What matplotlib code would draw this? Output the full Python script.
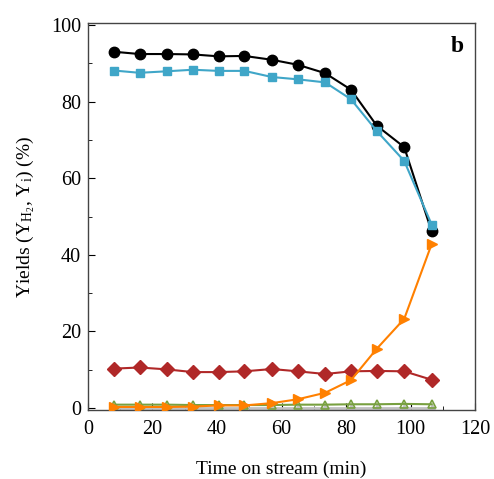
import numpy as np
import matplotlib
matplotlib.use('Agg')
from matplotlib import pyplot as plt
from matplotlib.ticker import MultipleLocator

plt.rcParams['font.family'] = ['Liberation Serif', 'DejaVu Serif']
plt.rcParams['mathtext.fontset'] = 'custom'
plt.rcParams['mathtext.rm'] = 'Liberation Serif'
plt.rcParams['mathtext.it'] = 'Liberation Serif:italic'

# time on stream (min)
t = [8, 16, 24.5, 32.5, 40.5, 48.5, 57, 65, 73.5, 81.5, 89.5, 98, 106.5]

# yields (%)
y_h2 = [93.0, 92.4, 92.4, 92.3, 91.8, 91.9, 90.9, 89.6, 87.4, 83.1, 73.7, 68.1, 46.1]
y_blue = [88.1, 87.5, 87.9, 88.3, 88.0, 88.0, 86.4, 85.8, 85.0, 80.6, 72.3, 64.5, 47.9]
y_red = [10.3, 10.6, 10.1, 9.4, 9.4, 9.6, 10.2, 9.6, 8.9, 9.6, 9.7, 9.6, 7.4]
y_orange = [0.3, 0.3, 0.3, 0.4, 0.7, 0.7, 1.3, 2.3, 4.0, 7.3, 15.5, 23.3, 42.8]
y_green = [0.9, 0.9, 0.9, 0.8, 0.8, 0.8, 0.8, 0.9, 0.9, 1.0, 1.0, 1.1, 1.0]
y_grey = [0.1, 0.1, 0.1, 0.1, 0.1, 0.1, 0.1, 0.1, 0.1, 0.1, 0.1, 0.1, 0.1]

fig = plt.figure(figsize=(4.94, 4.79), dpi=100)
ax = fig.add_axes([0.178, 0.144, 0.784, 0.808])

ax.plot(t, y_grey, '-^', color='#c0c0c0', lw=2.0, ms=6, zorder=2)
ax.plot(t, y_green, '-^', color='#78a040', lw=1.5, ms=6, mfc='none', mew=1.2, zorder=3)
ax.plot(t, y_red, '-D', color='#b02828', lw=1.5, ms=7, zorder=3)
ax.plot(t, y_orange, '->', color='#ff8000', lw=1.5, ms=7.5, zorder=4)
ax.plot(t, y_h2, '-o', color='black', lw=1.5, ms=7.5, zorder=4)
ax.plot(t, y_blue, '-s', color='#3fa6c8', lw=1.5, ms=6, zorder=5)

ax.set_xlim(0, 120)
ax.set_ylim(-0.5, 100.5)
ax.xaxis.set_major_locator(MultipleLocator(20))
ax.xaxis.set_minor_locator(MultipleLocator(10))
ax.yaxis.set_major_locator(MultipleLocator(20))
ax.yaxis.set_minor_locator(MultipleLocator(10))
ax.tick_params(which='both', direction='in', labelsize=14.5, top=False, right=False)
ax.tick_params(which='major', length=5)
ax.tick_params(which='minor', length=3)
ax.tick_params(axis='x', pad=7)
ax.tick_params(axis='y', pad=5)
for s in ax.spines.values():
    s.set_color('#444444')
    s.set_linewidth(1.0)

ax.set_xlabel('Time on stream (min)', fontsize=14, labelpad=16)
ax.set_ylabel(r'Yields (Y$_{\mathrm{H}_2}$, Y$_\mathrm{i}$) (%)', fontsize=14, labelpad=10)
ax.text(0.97, 0.94, 'b', transform=ax.transAxes, fontsize=17, fontweight='bold',
        ha='right', va='center')

fig.savefig('out.png', dpi=100)
